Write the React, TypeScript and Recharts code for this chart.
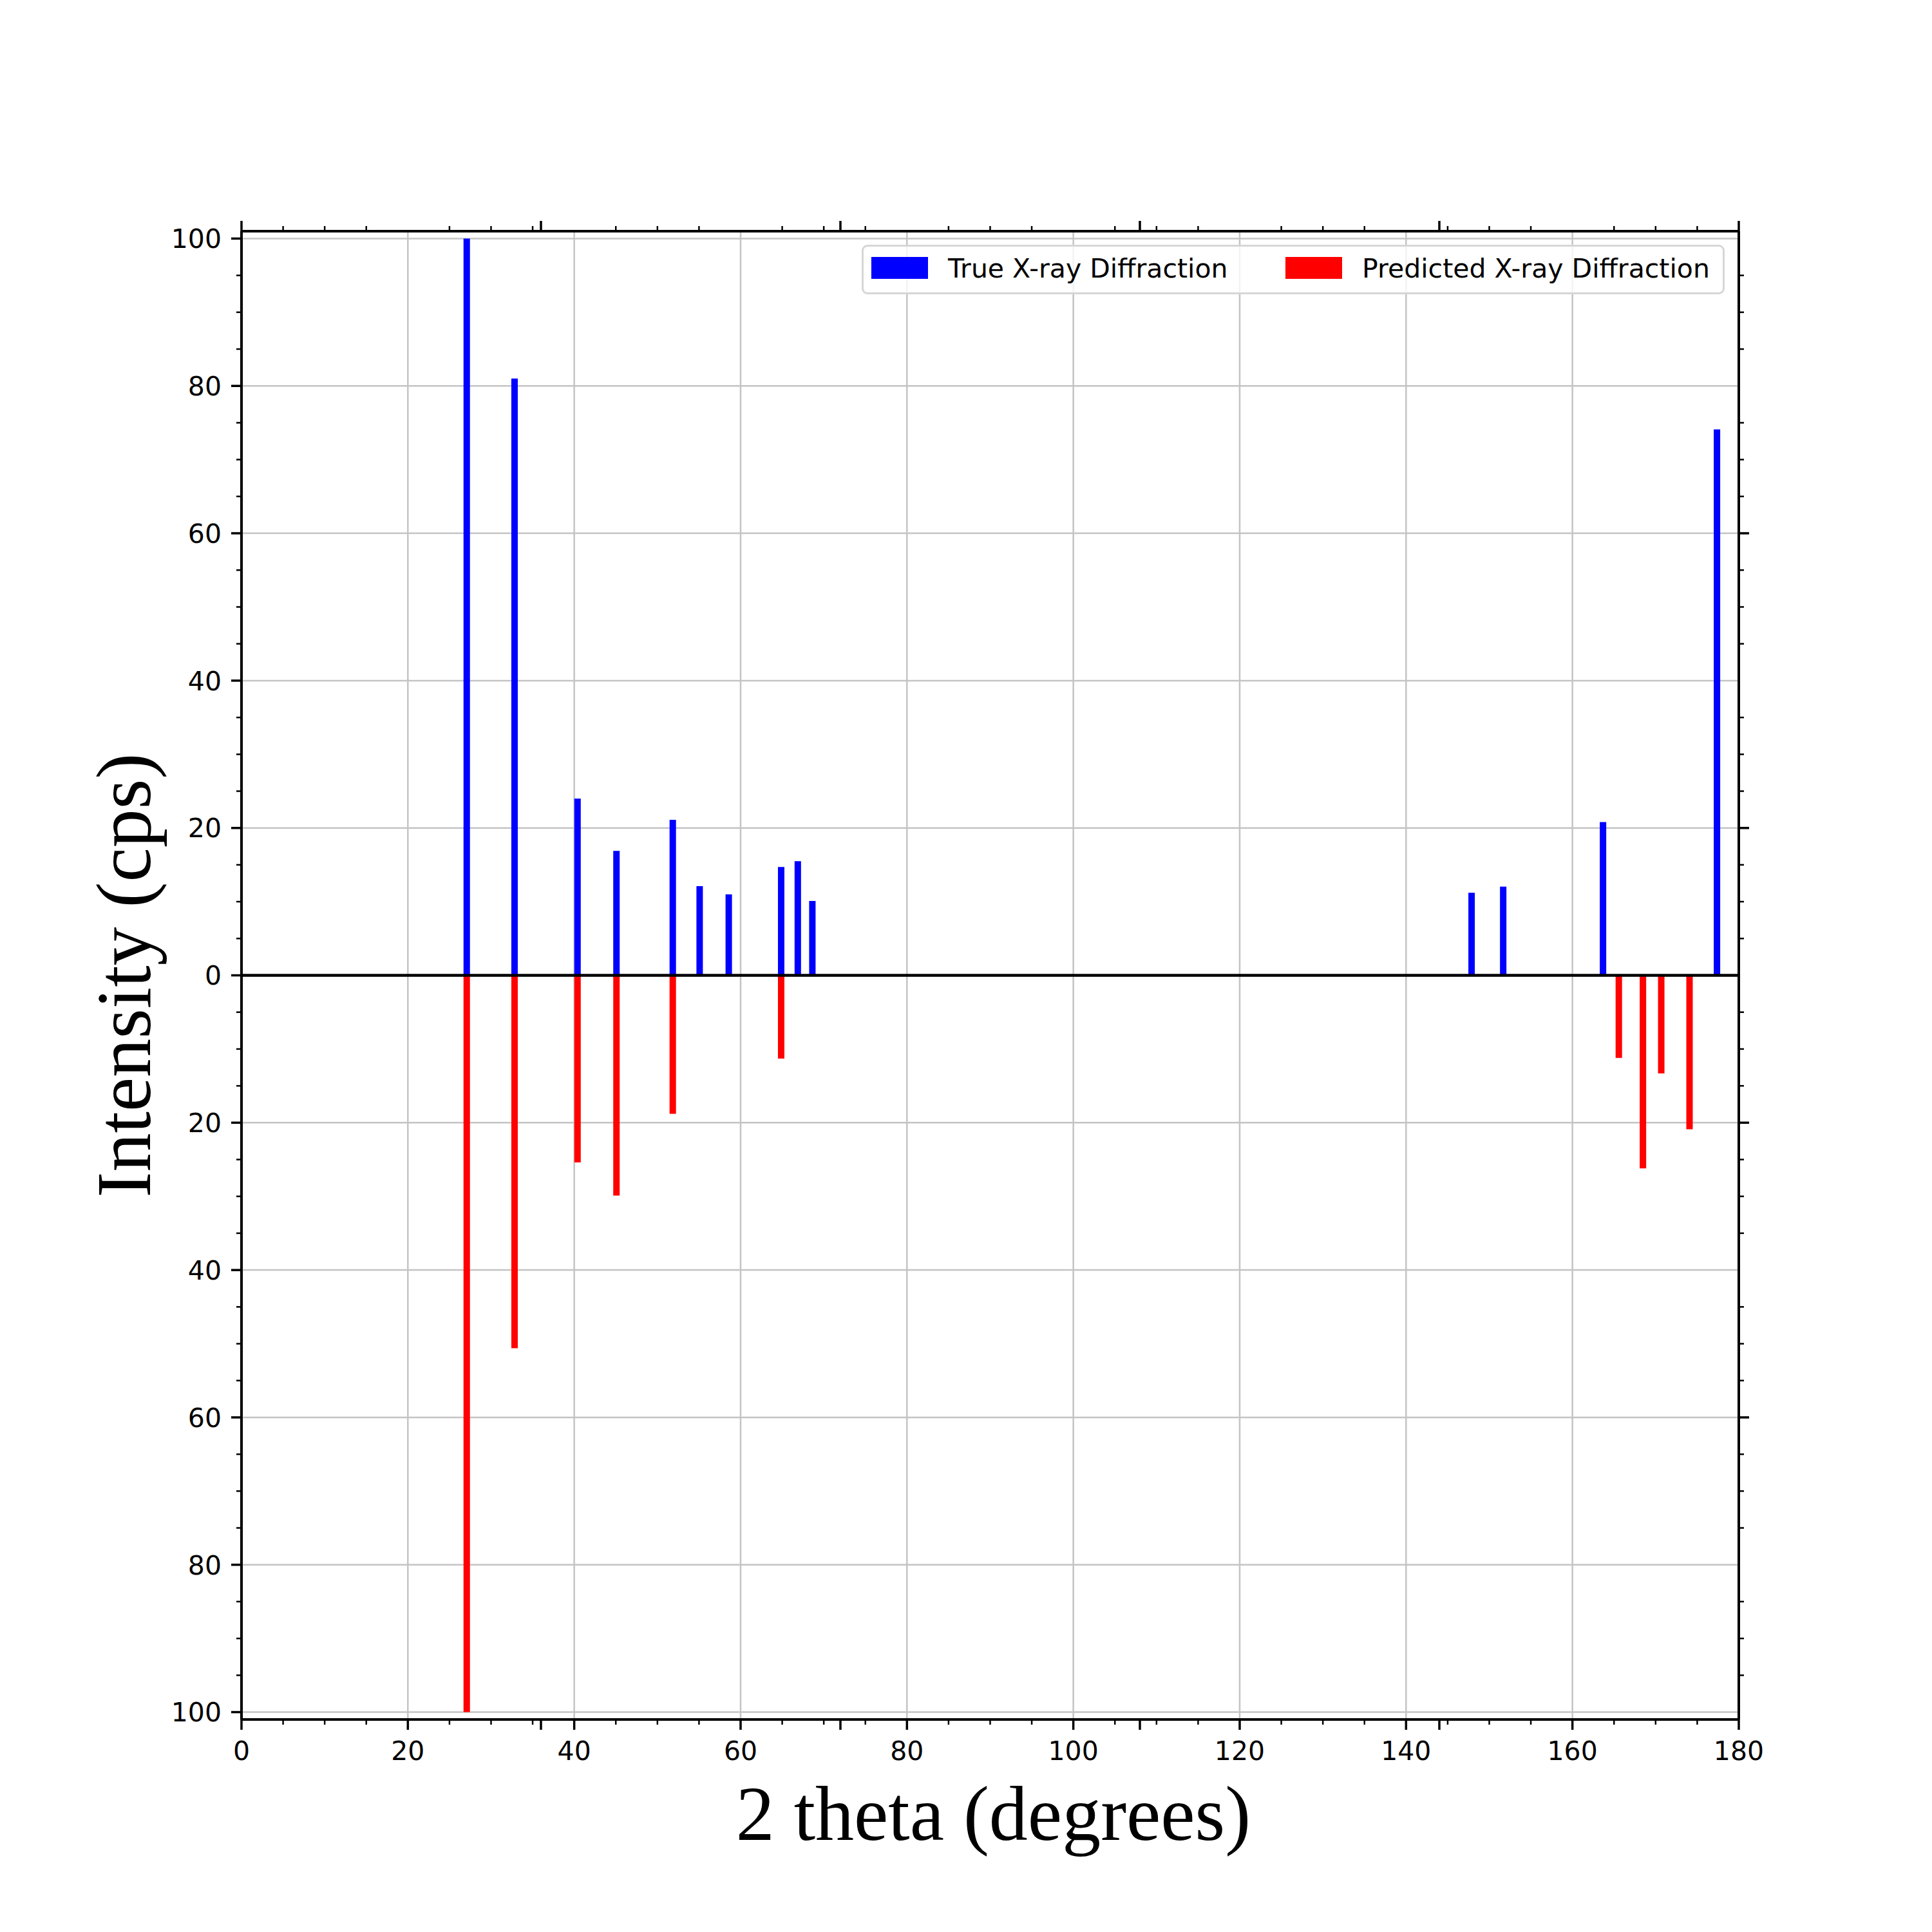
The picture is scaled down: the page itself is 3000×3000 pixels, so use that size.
import React from 'react';
import {
  ComposedChart,
  Bar,
  XAxis,
  YAxis,
  CartesianGrid,
  ReferenceLine,
  Legend,
} from 'recharts';

// ---- data ----
const twoTheta = [27.1, 32.85, 40.42, 45.1, 51.87, 55.1, 58.6, 64.9, 66.9, 68.65, 147.9, 151.7, 163.7, 165.6, 168.5, 170.7, 174.1, 177.4];
const trueIntensity = [100, 81, 24, 16.9, 21.1, 12.1, 11, 14.7, 15.5, 10.1, 11.2, 12.05, 20.8, 0, 0, 0, 0, 74.1];
const predictedIntensity = [-100, -50.6, -25.4, -29.9, -18.8, 0, 0, -11.3, 0, 0, 0, 0, 0, -11.2, -26.2, -13.3, -20.9, 0];

const seriesNames = ['True X-ray Diffraction', 'Predicted X-ray Diffraction'];
const seriesColors = ['#0000ff', '#ff0000'];

// ---- ticks ----
const xBottomTicks = [0, 5, 10, 15, 20, 25, 30, 35, 36, 40, 45, 50, 55, 60, 65, 70, 72, 75, 80, 85, 90, 95, 100, 105, 108, 110, 115, 120, 125, 130, 135, 140, 144, 145, 150, 155, 160, 165, 170, 175, 180];
const xLabelTicks = [0, 20, 40, 60, 80, 100, 120, 140, 160, 180];
const xTopTicks = [0, 5, 10, 15, 25, 30, 35, 36, 45, 50, 55, 65, 70, 72, 75, 85, 90, 95, 105, 108, 110, 115, 125, 130, 135, 144, 145, 150, 155, 165, 170, 175, 180];
const xTwinMajor = [0, 36, 72, 108, 144, 180];
const yLeftTicks = [-100, -95, -90, -85, -80, -75, -70, -65, -60, -55, -50, -45, -40, -35, -30, -25, -20, -15, -10, -5, 0, 5, 10, 15, 20, 25, 30, 35, 40, 45, 50, 55, 60, 65, 70, 75, 80, 85, 90, 95, 100];
const yLabelTicks = [-100, -80, -60, -40, -20, 0, 20, 40, 60, 80, 100];
const yRightTicks = [-95, -90, -85, -75, -70, -65, -60, -55, -50, -45, -35, -30, -25, -20, -15, -10, -5, 5, 10, 15, 20, 25, 30, 35, 45, 50, 55, 60, 65, 70, 75, 85, 90, 95];
const yRightMajor = [-60, -20, 20, 60];

const xDomain = [0, 180];
const yDomain = [-101, 101];

const data = twoTheta.map((t, i) => ({
  theta: t,
  trueI: trueIntensity[i],
  predI: predictedIntensity[i],
}));

const TICK_FONT = "'DejaVu Sans', sans-serif";
const TITLE_FONT = "'Liberation Serif', 'Times New Roman', serif";
const MAJOR = 16;
const MINOR = 8;

const BottomTick = (props: any) => {
  const { x, y, payload } = props;
  const v = payload.value;
  const major = xLabelTicks.includes(v) || xTwinMajor.includes(v);
  const len = major ? MAJOR : MINOR;
  return (
    <g>
      <line x1={x} x2={x} y1={y} y2={y + len} stroke="#000" strokeWidth={major ? 3.5 : 2.5} />
      {xLabelTicks.includes(v) && (
        <text x={x} y={y + 63} textAnchor="middle" fontFamily={TICK_FONT} fontSize={41} fill="#000">
          {v}
        </text>
      )}
    </g>
  );
};

const TopTick = (props: any) => {
  const { x, y, payload } = props;
  const v = payload.value;
  const major = xTwinMajor.includes(v);
  const len = major ? MAJOR : MINOR;
  return <line x1={x} x2={x} y1={y} y2={y - len} stroke="#000" strokeWidth={major ? 3.5 : 2.5} />;
};

const LeftTick = (props: any) => {
  const { x, y, payload } = props;
  const v = payload.value;
  const major = yLabelTicks.includes(v);
  const len = major ? MAJOR : MINOR;
  return (
    <g>
      <line x1={x} x2={x - len} y1={y} y2={y} stroke="#000" strokeWidth={major ? 3.5 : 2.5} />
      {major && (
        <text x={x - 31} y={y} dy="0.36em" textAnchor="end" fontFamily={TICK_FONT} fontSize={41} fill="#000">
          {Math.abs(v)}
        </text>
      )}
    </g>
  );
};

const RightTick = (props: any) => {
  const { x, y, payload } = props;
  const v = payload.value;
  const major = yRightMajor.includes(v);
  const len = major ? MAJOR : MINOR;
  return <line x1={x} x2={x + len} y1={y} y2={y} stroke="#000" strokeWidth={major ? 3.5 : 2.5} />;
};

const XTitle = (props: any) => {
  const vb = props.viewBox;
  return (
    <text
      x={vb.x + vb.width / 2 + 5}
      y={vb.y + 187}
      textAnchor="middle"
      fontFamily={TITLE_FONT}
      fontSize={120}
      fill="#000"
    >
      2 theta (degrees)
    </text>
  );
};

const YTitle = (props: any) => {
  const vb = props.viewBox;
  const cx = vb.x + vb.width - 142;
  const cy = vb.y + vb.height / 2;
  return (
    <text
      x={cx}
      y={cy}
      transform={`rotate(-90, ${cx}, ${cy})`}
      textAnchor="middle"
      fontFamily={TITLE_FONT}
      fontSize={120}
      fill="#000"
    >
      Intensity (cps)
    </text>
  );
};

const LegendBox = (props: any) => {
  const payload = props.payload || [];
  const items = seriesNames.map((n, i) => {
    const p = payload.find((q: any) => q.value === n);
    return { value: n, color: (p && p.color) || seriesColors[i] };
  });
  const swatchLeft = [15, 658];
  return (
    <div
      style={{
        position: 'relative',
        width: 1340,
        height: 77,
        boxSizing: 'border-box',
        border: '3px solid #d6d6d6',
        borderRadius: 9,
        background: 'rgba(255,255,255,0.8)',
        fontFamily: TICK_FONT,
        fontSize: 41,
        color: '#000',
      }}
    >
      {items.map((it: any, i: number) => (
        <React.Fragment key={it.value}>
          <div
            style={{
              position: 'absolute',
              left: swatchLeft[i] - 3,
              top: 16,
              width: 88,
              height: 34,
              background: it.color,
            }}
          />
          <div
            style={{
              position: 'absolute',
              left: swatchLeft[i] + 119 - 3,
              top: 4,
              lineHeight: '60px',
              whiteSpace: 'nowrap',
            }}
          >
            {it.value}
          </div>
        </React.Fragment>
      ))}
    </div>
  );
};

export default function App() {
  return (
    <div style={{ position: 'absolute', left: 0, top: 0, width: 3000, height: 3000, background: '#fff' }}>
      <ComposedChart
        width={3000}
        height={3000}
        data={data}
        stackOffset="sign"
        margin={{ top: 329, right: 250, bottom: 230, left: 275 }}
      >
        <CartesianGrid
          xAxisId="bottom"
          yAxisId="left"
          horizontalValues={yLabelTicks}
          verticalValues={xLabelTicks}
          stroke="#c4c4c4"
          strokeWidth={2.5}
        />
        <XAxis
          xAxisId="bottom"
          dataKey="theta"
          type="number"
          domain={xDomain}
          ticks={xBottomTicks}
          interval={0}
          orientation="bottom"
          height={100}
          tickSize={0}
          tickMargin={0}
          tickLine={false}
          axisLine={{ stroke: '#000', strokeWidth: 4 }}
          tick={<BottomTick />}
          allowDataOverflow
          label={{ content: <XTitle /> }}
        />
        <XAxis
          xAxisId="top"
          dataKey="theta"
          type="number"
          domain={xDomain}
          ticks={xTopTicks}
          interval={0}
          orientation="top"
          height={30}
          tickSize={0}
          tickMargin={0}
          tickLine={false}
          axisLine={{ stroke: '#000', strokeWidth: 4 }}
          tick={<TopTick />}
          allowDataOverflow
        />
        <YAxis
          yAxisId="left"
          type="number"
          domain={yDomain}
          ticks={yLeftTicks}
          interval={0}
          orientation="left"
          width={100}
          tickSize={0}
          tickMargin={0}
          tickLine={false}
          axisLine={{ stroke: '#000', strokeWidth: 4 }}
          tick={<LeftTick />}
          allowDataOverflow
          label={{ content: <YTitle /> }}
        />
        <YAxis
          yAxisId="right"
          type="number"
          domain={yDomain}
          ticks={yRightTicks}
          interval={0}
          orientation="right"
          width={50}
          tickSize={0}
          tickMargin={0}
          tickLine={false}
          axisLine={{ stroke: '#000', strokeWidth: 4 }}
          tick={<RightTick />}
          allowDataOverflow
        />
        <Legend
          layout="horizontal"
          verticalAlign="middle"
          align="center"
          content={<LegendBox />}
          wrapperStyle={{ left: 1338, top: 380, width: 1340, height: 77 }}
        />
        <Bar
          xAxisId="bottom"
          yAxisId="left"
          dataKey="trueI"
          name={seriesNames[0]}
          fill={seriesColors[0]}
          stackId="xrd"
          barSize={10}
          isAnimationActive={false}
        />
        <Bar
          xAxisId="bottom"
          yAxisId="left"
          dataKey="predI"
          name={seriesNames[1]}
          fill={seriesColors[1]}
          stackId="xrd"
          barSize={10}
          isAnimationActive={false}
        />
        <ReferenceLine xAxisId="bottom" yAxisId="left" y={0} stroke="#000" strokeWidth={4.5} />
      </ComposedChart>
    </div>
  );
}
